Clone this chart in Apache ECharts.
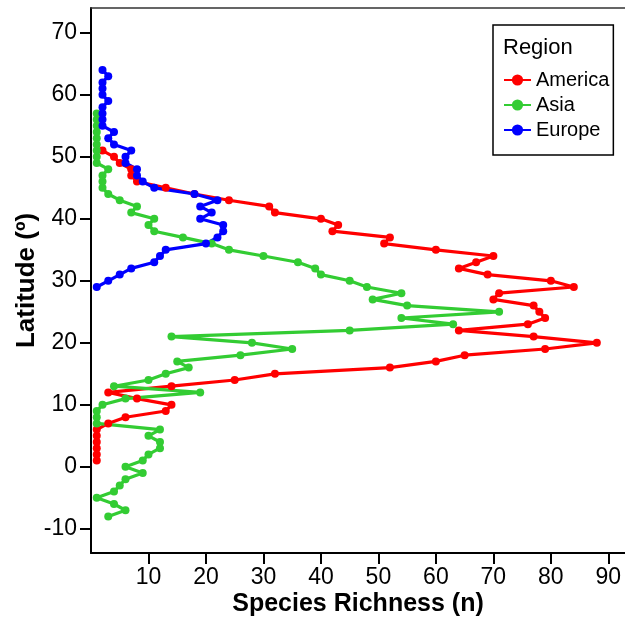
<!DOCTYPE html>
<html>
<head>
<meta charset="utf-8">
<script src="https://cdn.jsdelivr.net/npm/echarts@6/dist/echarts.min.js"></script>
<style>
html,body{margin:0;padding:0;background:#fff;}
#chart{width:625px;height:617px;}
</style>
</head>
<body>
<div id="chart"></div>
<script>
// Latitudes per region
const americaLat = [1,2,3,4,5,6,7,8,9,10,11,12,13,14,15,16,17,18,19,20,21,22,23,24,25,26,27,28,29,30,31,32,33,34,35,36,37,38,39,40,41,42,43,44,45,46,47,48,49,50,51];
const americaRich = [1,1,1,1,1,1,3,6,13,14,8,3,14,25,32,52,60,65,79,88,77,64,76,79,78,77,70,71,84,80,69,64,67,70,60,51,52,42,43,40,32,31,24,18,13,8,7,7,5,4,2];

const asiaLat = [-8,-7,-6,-5,-4,-3,-2,-1,0,1,2,3,4,5,6,7,8,9,10,11,12,13,14,15,16,17,18,19,20,21,22,23,24,25,26,27,28,29,30,31,32,33,34,35,36,37,38,39,40,41,42,43,44,45,46,47,48,49,50,51,52,53,54,55,56,57];
const asiaRich = [3,6,4,1,4,5,6,9,6,9,10,12,12,10,12,1,1,1,2,6,19,4,10,13,17,15,26,35,28,14,45,63,54,71,55,49,54,48,45,40,39,36,30,24,21,16,11,10,11,7,8,5,3,2,2,2,3,1,1,1,1,1,1,1,1,1];

const europeLat = [29,30,31,32,33,34,35,36,37,38,39,40,41,42,43,44,45,46,47,48,49,50,51,52,53,54,55,56,57,58,59,60,61,62,63,64];
const europeRich = [1,3,5,7,11,12,13,20,22,23,23,19,21,19,22,18,11,9,8,8,6,6,7,4,3,4,2,2,2,2,3,2,2,2,3,2];

const xTicks = [10,20,30,40,50,60,70,80,90];
const yTicks = [-10,0,10,20,30,40,50,60,70];

const regions = ['America','Asia','Europe'];
const colors = ['#ff0000','#33cc33','#0000ff'];

function pairs(rich, lat){ return rich.map((v,i)=>[v, lat[i]]); }

const FONT = 'Liberation Sans, Arial, sans-serif';
const chart = echarts.init(document.getElementById('chart'), null, {renderer:'canvas'});

function mkSeries(name, data, color){
  return {
    name: name, type:'line', data: data, color: color,
    symbol:'circle', symbolSize:8, showAllSymbol:true,
    lineStyle:{width:3.2, color: color},
    itemStyle:{color: color},
    emphasis:{disabled:true},
    animation:false
  };
}

chart.setOption({
  animation:false,
  backgroundColor:'#fff',
  grid:{left:91, right:0, top:8, bottom:64, containLabel:false, outerBoundsMode:'none'},
  legend:{
    orient:'vertical', left:493, top:25,
    data: regions,
    borderColor:'#000', borderWidth:1.5,
    padding:[45, 4, 15, 10],
    itemGap:5, itemWidth:27, itemHeight:14,
    textStyle:{fontSize:20, color:'#000', fontFamily:FONT},
    backgroundColor:'#fff'
  },
  graphic:[{
    type:'text', left:503, top:37, z:100,
    style:{text:'Region', fontSize:22, fill:'#000', fontFamily:FONT}
  }],
  xAxis:[{
    type:'value', min:0, max:92.9,
    name:'Species Richness (n)', nameLocation:'middle', nameGap:39, nameMoveOverlap:false,
    nameTextStyle:{fontSize:25, fontWeight:'bold', color:'#000', fontFamily:FONT},
    axisLine:{show:true, onZero:false, lineStyle:{color:'#000', width:2}},
    axisTick:{show:true, length:11, lineStyle:{color:'#000', width:2}, customValues:xTicks},
    axisLabel:{fontSize:23, color:'#000', margin:13, fontFamily:FONT, customValues:xTicks},
    splitLine:{show:false}
  },{
    type:'value', position:'top', min:0, max:92.9,
    axisLine:{show:true, onZero:false, lineStyle:{color:'#333', width:1.5}},
    axisTick:{show:false}, axisLabel:{show:false}, splitLine:{show:false}
  }],
  yAxis:{
    type:'value', min:-13.9, max:74,
    name:'Latitude (º)', nameLocation:'middle', nameGap:51, nameRotate:90, nameMoveOverlap:false,
    nameTextStyle:{fontSize:26, fontWeight:'bold', color:'#000', fontFamily:FONT},
    axisLine:{show:true, onZero:false, lineStyle:{color:'#000', width:2}},
    axisTick:{show:true, length:11, lineStyle:{color:'#000', width:2}, customValues:yTicks},
    axisLabel:{fontSize:23, color:'#000', margin:14, fontFamily:FONT, customValues:yTicks},
    splitLine:{show:false}
  },
  series:[
    mkSeries(regions[0], pairs(americaRich, americaLat), colors[0]),
    mkSeries(regions[1], pairs(asiaRich, asiaLat), colors[1]),
    mkSeries(regions[2], pairs(europeRich, europeLat), colors[2])
  ]
});
</script>
</body>
</html>
